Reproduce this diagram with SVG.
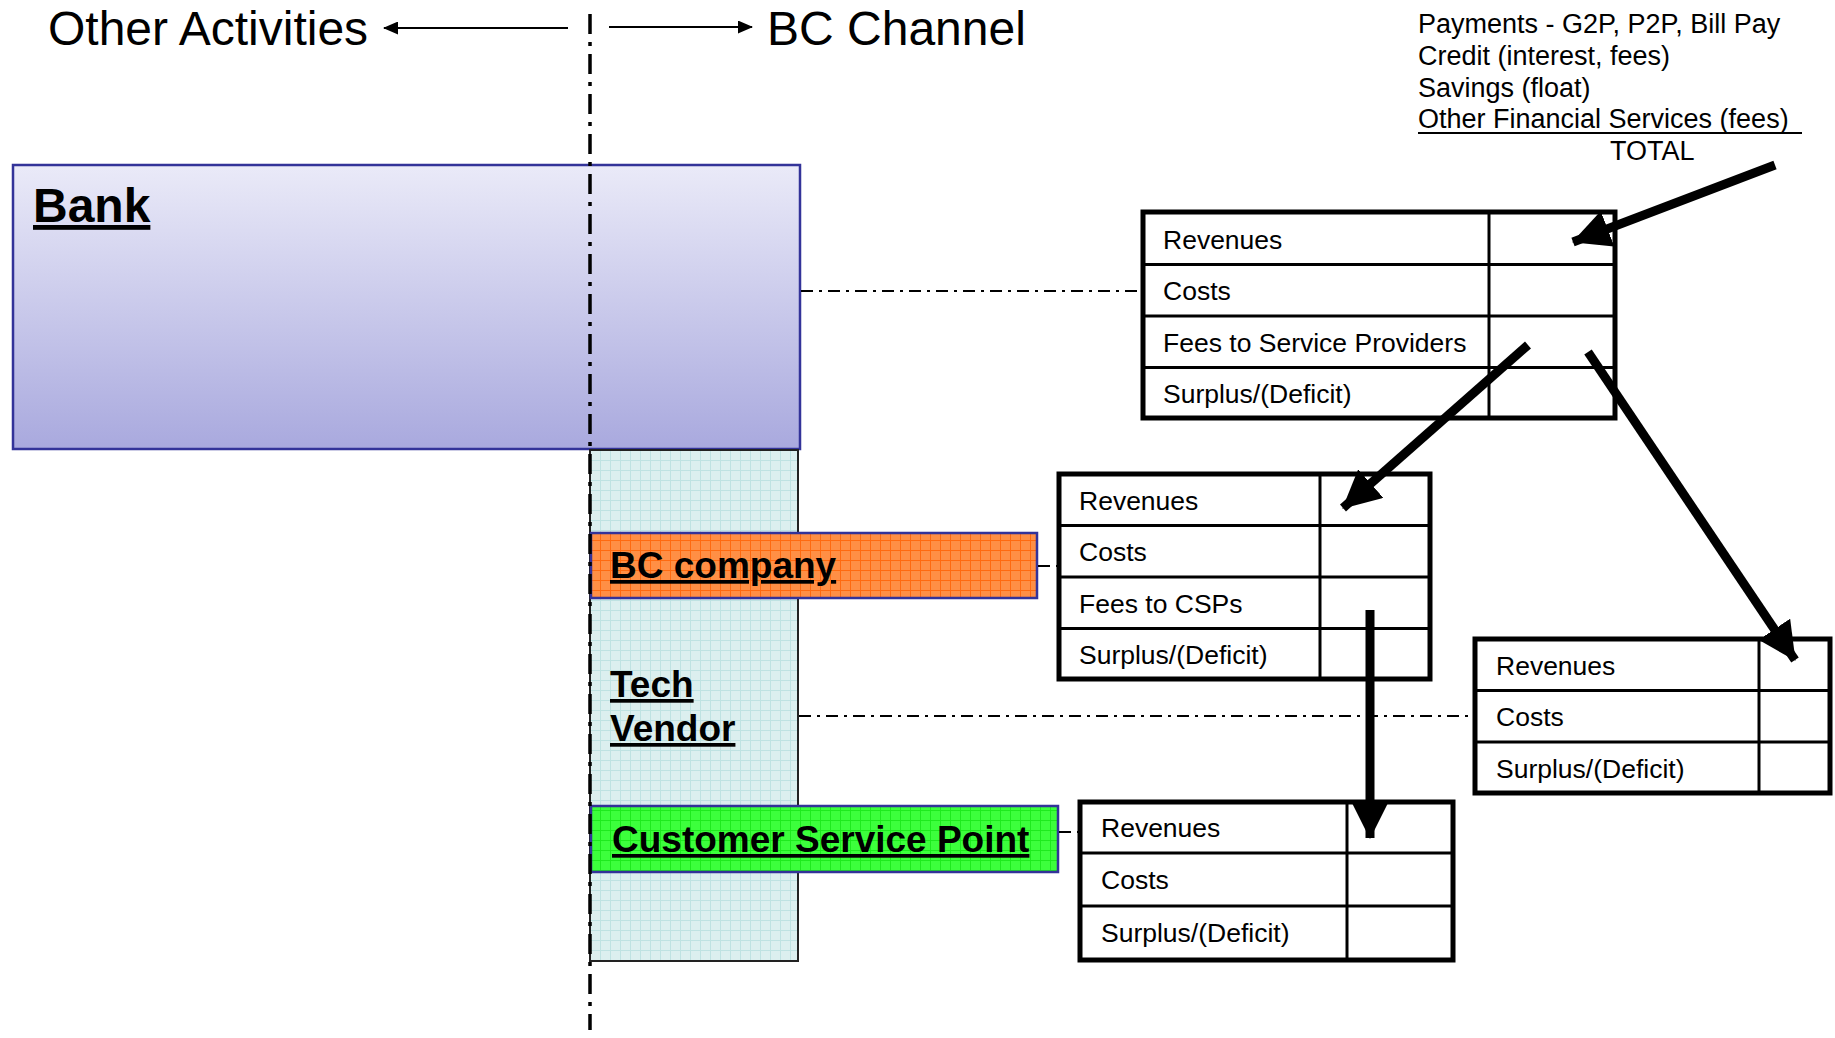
<svg xmlns="http://www.w3.org/2000/svg" width="1835" height="1038" viewBox="0 0 1835 1038">
  <style>
    .head { font-family: "Liberation Sans", Arial, sans-serif; font-size: 48px; fill: #000; }
    .lbl { font-family: "Liberation Sans", Arial, sans-serif; font-weight: bold; fill: #000; text-decoration: underline; }
    .cell { font-family: "Liberation Sans", Arial, sans-serif; font-size: 26.5px; fill: #000; }
    .src { font-family: "Liberation Sans", Arial, sans-serif; font-size: 27px; fill: #000; }
    .tbl { fill: #fff; stroke: #000; stroke-width: 5; }
    .rule { stroke: #000; stroke-width: 3; }
    .link { stroke: #000; stroke-width: 2; stroke-dasharray: 12 6 3 6; fill: none; }
    .flow { stroke: #000; stroke-width: 9; fill: none; marker-end: url(#bigHead); }
    .thin { stroke: #000; stroke-width: 2; fill: none; marker-end: url(#smallHead); }
  </style>
  <defs>
    <linearGradient id="bankFill" x1="0" y1="0" x2="0" y2="1">
      <stop offset="0" stop-color="#eaeaf8"/>
      <stop offset="1" stop-color="#a9a9de"/>
    </linearGradient>
    <pattern id="gridCyan" width="10" height="10" patternUnits="userSpaceOnUse">
      <rect width="10" height="10" fill="#dcefef"/>
      <path d="M0 0.5H10M0.5 0V10" stroke="#bfe2e2" stroke-width="1"/>
    </pattern>
    <pattern id="gridOrange" width="10" height="10" patternUnits="userSpaceOnUse">
      <rect width="10" height="10" fill="#ff8f45"/>
      <path d="M0 0.5H10M0.5 0V10" stroke="#ff6a10" stroke-width="1"/>
    </pattern>
    <pattern id="gridGreen" width="10" height="10" patternUnits="userSpaceOnUse">
      <rect width="10" height="10" fill="#3cff3c"/>
      <path d="M0 0.5H10M0.5 0V10" stroke="#1eea1e" stroke-width="1"/>
    </pattern>
    <marker id="bigHead" markerUnits="userSpaceOnUse" markerWidth="38" markerHeight="38" viewBox="0 0 38 38" refX="37" refY="19" orient="auto">
      <path d="M0 0L38 19L0 38Z" fill="#000"/>
    </marker>
    <marker id="smallHead" markerUnits="userSpaceOnUse" markerWidth="15" markerHeight="13" viewBox="0 0 15 13" refX="14" refY="6.5" orient="auto">
      <path d="M0 0L15 6.5L0 13Z" fill="#000"/>
    </marker>
  </defs>

  <rect width="1835" height="1038" fill="#fff"/>

  <!-- headings -->
  <g id="headings">
    <text class="head" x="48" y="45">Other Activities</text>
    <text class="head" x="767" y="45">BC Channel</text>
    <line class="thin" x1="568" y1="28" x2="384" y2="28"/>
    <line class="thin" x1="609" y1="27" x2="752" y2="27"/>
  </g>

  <!-- revenue sources -->
  <g id="sources">
    <text class="src" x="1418" y="33">Payments - G2P, P2P, Bill Pay</text>
    <text class="src" x="1418" y="65">Credit (interest, fees)</text>
    <text class="src" x="1418" y="97">Savings (float)</text>
    <text class="src" x="1418" y="128">Other Financial Services (fees)</text>
    <line x1="1418" y1="133" x2="1802" y2="133" stroke="#000" stroke-width="2"/>
    <text class="src" x="1610" y="160">TOTAL</text>
  </g>

  <!-- organisations -->
  <g id="bank">
    <rect x="13" y="165" width="787" height="284" fill="url(#bankFill)" stroke="#333399" stroke-width="2.5"/>
    <text class="lbl" x="33" y="222" font-size="48">Bank</text>
  </g>
  <g id="tech-vendor">
    <rect x="590" y="450" width="208" height="511" fill="url(#gridCyan)" stroke="#222" stroke-width="2"/>
    <text class="lbl" x="610" y="697" font-size="37">Tech</text>
    <text class="lbl" x="610" y="741" font-size="37">Vendor</text>
  </g>
  <g id="bc-company">
    <rect x="591" y="533" width="446" height="65" fill="url(#gridOrange)" stroke="#333399" stroke-width="2.5"/>
    <text class="lbl" x="610" y="578" font-size="37">BC company</text>
  </g>
  <g id="csp">
    <rect x="591" y="806" width="467" height="66" fill="url(#gridGreen)" stroke="#333399" stroke-width="2.5"/>
    <text class="lbl" x="612" y="852" font-size="37">Customer Service Point</text>
  </g>

  <!-- channel boundary -->
  <line x1="590" y1="14" x2="590" y2="1030" stroke="#000" stroke-width="3.5" stroke-dasharray="20 8 4 8"/>

  <!-- statements -->
  <g id="bank-statement">
    <rect class="tbl" x="1143" y="212" width="472" height="206"/>
    <line class="rule" x1="1489" y1="212" x2="1489" y2="418"/>
    <line class="rule" x1="1143" y1="264.5" x2="1615" y2="264.5"/>
    <line class="rule" x1="1143" y1="316" x2="1615" y2="316"/>
    <line class="rule" x1="1143" y1="367.5" x2="1615" y2="367.5"/>
    <text class="cell" x="1163" y="249">Revenues</text>
    <text class="cell" x="1163" y="300">Costs</text>
    <text class="cell" x="1163" y="352">Fees to Service Providers</text>
    <text class="cell" x="1163" y="403">Surplus/(Deficit)</text>
  </g>
  <g id="bc-statement">
    <rect class="tbl" x="1059" y="474" width="371" height="205"/>
    <line class="rule" x1="1320" y1="474" x2="1320" y2="679"/>
    <line class="rule" x1="1059" y1="525.5" x2="1430" y2="525.5"/>
    <line class="rule" x1="1059" y1="577" x2="1430" y2="577"/>
    <line class="rule" x1="1059" y1="628.5" x2="1430" y2="628.5"/>
    <text class="cell" x="1079" y="510">Revenues</text>
    <text class="cell" x="1079" y="561">Costs</text>
    <text class="cell" x="1079" y="613">Fees to CSPs</text>
    <text class="cell" x="1079" y="664">Surplus/(Deficit)</text>
  </g>
  <g id="vendor-statement">
    <rect class="tbl" x="1475" y="639" width="355" height="154"/>
    <line class="rule" x1="1759" y1="639" x2="1759" y2="793"/>
    <line class="rule" x1="1475" y1="690.5" x2="1830" y2="690.5"/>
    <line class="rule" x1="1475" y1="742" x2="1830" y2="742"/>
    <text class="cell" x="1496" y="675">Revenues</text>
    <text class="cell" x="1496" y="726">Costs</text>
    <text class="cell" x="1496" y="778">Surplus/(Deficit)</text>
  </g>
  <g id="csp-statement">
    <rect class="tbl" x="1080" y="802" width="373" height="158"/>
    <line class="rule" x1="1347" y1="802" x2="1347" y2="960"/>
    <line class="rule" x1="1080" y1="853" x2="1453" y2="853"/>
    <line class="rule" x1="1080" y1="906" x2="1453" y2="906"/>
    <text class="cell" x="1101" y="837">Revenues</text>
    <text class="cell" x="1101" y="889">Costs</text>
    <text class="cell" x="1101" y="942">Surplus/(Deficit)</text>
  </g>

  <!-- connectors -->
  <g id="connectors">
    <line class="link" x1="801" y1="291" x2="1141" y2="291"/>
    <line class="link" x1="799" y1="716" x2="1473" y2="716"/>
    <line class="link" x1="1038" y1="566" x2="1057" y2="566"/>
    <line class="link" x1="1059" y1="832" x2="1078" y2="832"/>
    <line class="flow" x1="1775" y1="165" x2="1573" y2="242"/>
    <line class="flow" x1="1528" y1="345" x2="1343" y2="508"/>
    <line class="flow" x1="1588" y1="352" x2="1795" y2="660"/>
    <line class="flow" x1="1370" y1="610" x2="1370" y2="838"/>
  </g>
</svg>
